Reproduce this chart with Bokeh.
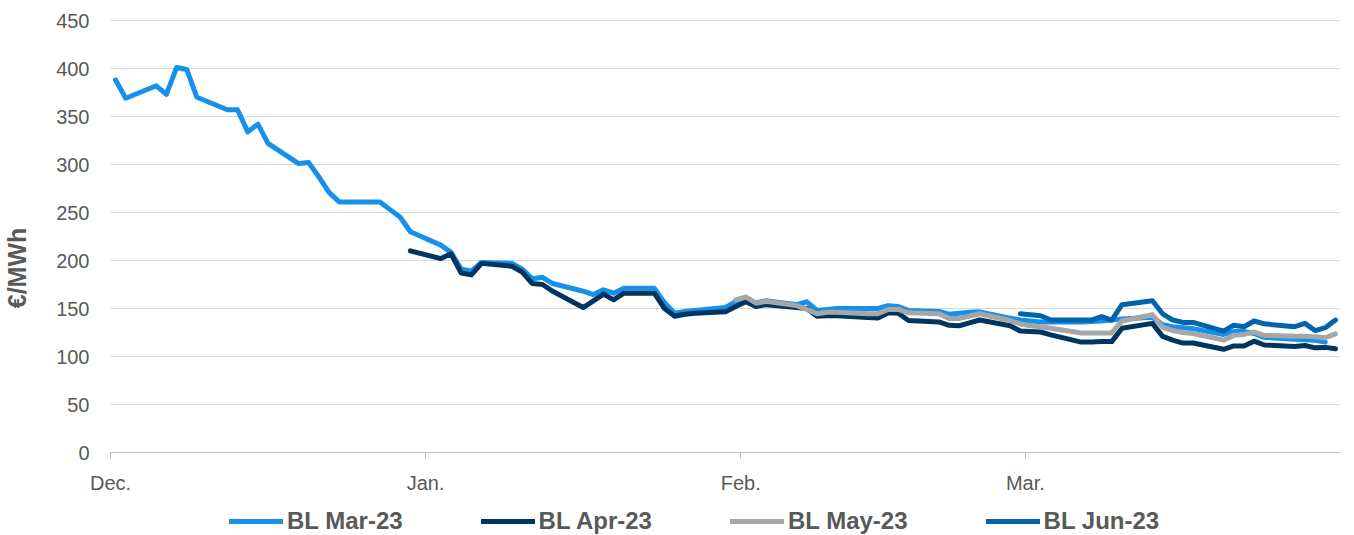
import datetime as dt
from bokeh.plotting import figure
from bokeh.models import Range1d, FixedTicker, Legend, LegendItem, ColumnDataSource, BoxAnnotation
from bokeh.embed import file_html
from bokeh.resources import INLINE

# ---- data -------------------------------------------------------------
DEC_DAYS = [1, 2, 5, 6, 7, 8, 9, 12, 13, 14, 15, 16, 19, 20, 21, 22, 23, 27, 28, 29, 30]
JAN_DAYS = [2, 3, 4, 5, 6, 9, 10, 11, 12, 13, 16, 17, 18, 19, 20, 23, 24, 25, 26, 27, 30, 31]
FEB_DAYS = [1, 2, 3, 6, 7, 8, 9, 10, 13, 14, 15, 16, 17, 20, 21, 22, 23, 24, 27, 28]
MAR_DAYS = [1, 2, 3, 6, 7, 8, 9, 10, 13, 14, 15, 16, 17, 20, 21, 22, 23, 24, 27, 28, 29, 30, 31]

TRADING_DATES = ([dt.datetime(2022, 12, d) for d in DEC_DAYS]
                 + [dt.datetime(2023, 1, d) for d in JAN_DAYS]
                 + [dt.datetime(2023, 2, d) for d in FEB_DAYS]
                 + [dt.datetime(2023, 3, d) for d in MAR_DAYS])

# BL Mar-23, from 2022-12-01
BL_MAR_23 = [388, 369, 382, 373, 401, 399, 370, 357, 357, 334, 342, 322, 301, 302, 287, 271, 261, 261, 253, 245, 230,
             216, 208.5, 191, 189, 198, 197, 191, 181, 182.5, 176, 168, 164.5, 169.5, 166, 171, 171, 156, 145, 147, 148, 151, 157,
             160, 156, 158, 154, 157, 148, 149, 150, 150, 150, 153, 152, 148, 147, 144, 145, 146, 146.5, 140, 138,
             137, 136, 136, 136, 136.5, 137, 138, 139, 141, 133, 131, 130, 129, 123, 126, 126, 124, 120, 118, 117.5, 117, 115]
# BL Apr-23, from 2022-12-30
BL_APR_23 = [210,
             202, 207, 187, 185, 197, 194, 188, 176, 175, 168, 151, 158, 165, 159, 166, 166, 150, 142, 144, 145, 146.5, 152,
             157, 152, 154, 151, 150, 142, 142.5, 142.5, 140.5, 140, 145.5, 145, 137.5, 136, 132.5, 132, 135, 138, 132, 126.5,
             126, 125.5, 122.5, 115, 115, 115.5, 115.5, 129.5, 134.5, 121, 117, 114, 114, 107.5, 111, 111, 116, 112, 110.5, 111.5, 109, 109.5, 108]
# BL May-23, from 2023-01-31
BL_MAY_23 = [159,
             162, 155.5, 157.5, 153, 149, 144.5, 146, 146, 144.5, 144.5, 149, 149, 145.5, 144.5, 139.5, 139.5, 142, 144.5, 137.5, 134,
             132, 131, 129.5, 124.5, 124.5, 124.5, 124.5, 137, 143.5, 130.5, 127, 125, 124, 117, 122, 123, 125.5, 122, 121, 121, 120.5, 119.5, 123.5]
# BL Jun-23, from 2023-02-28
BL_JUN_23 = [144.5,
             143.5, 142.5, 138, 138, 138, 141.5, 138, 154, 158, 144.5, 138, 135.5, 135.5, 126.5, 132.5, 131, 137, 134, 131, 134.5, 127, 130, 138]

SERIES_NAMES = ["BL Mar-23", "BL Apr-23", "BL May-23", "BL Jun-23"]
SERIES_STARTS = [dt.datetime(2022, 12, 1), dt.datetime(2022, 12, 30), dt.datetime(2023, 1, 31), dt.datetime(2023, 2, 28)]
SERIES_VALUES = [BL_MAR_23, BL_APR_23, BL_MAY_23, BL_JUN_23]
SERIES_COLORS = ["#1591EC", "#00355F", "#A6A6A6", "#0063AE"]

MONTH_LABELS = ["Dec.", "Jan.", "Feb.", "Mar."]
MONTH_STARTS = [dt.datetime(2022, 12, 1), dt.datetime(2023, 1, 1), dt.datetime(2023, 2, 1), dt.datetime(2023, 3, 1)]
AXIS_END = dt.datetime(2023, 4, 1)
Y_TICKS = [0, 50, 100, 150, 200, 250, 300, 350, 400, 450]
Y_LABEL = "€/MWh"

# ---- figure -----------------------------------------------------------
EPOCH = dt.datetime(1970, 1, 1)
HALF_DAY = dt.timedelta(hours=12)


def ms(d):
    return (d - EPOCH).total_seconds() * 1000.0


FONT = "Liberation Sans"
TEXT_GREY = "#595959"

# geometry (pixels)
PLOT_W = 1230         # width of the date span
LEFT_PAD = 21         # extra frame room left of the first tick (for the "Dec." label)
PLOT_H = 432          # pixels between value 0 and value 450
TOP_PAD = 20          # frame room above 450
BAND_H = 83           # frame room below value 0 (axis labels + legend)

x_start = ms(MONTH_STARTS[0] - HALF_DAY)
x_end = ms(AXIS_END - HALF_DAY)
ms_per_px = (x_end - x_start) / PLOT_W
Y_MAX = Y_TICKS[-1]
u_per_px = Y_MAX / PLOT_H

p = figure(frame_width=PLOT_W + LEFT_PAD, frame_height=TOP_PAD + PLOT_H + BAND_H,
           output_backend="svg", toolbar_location=None,
           x_axis_type="datetime",
           x_range=Range1d(x_start - LEFT_PAD * ms_per_px, x_end),
           y_range=Range1d(-BAND_H * u_per_px, Y_MAX + TOP_PAD * u_per_px),
           min_border_left=110 - LEFT_PAD, min_border_right=14, min_border_top=0, min_border_bottom=0)
p.outline_line_color = None
p.background_fill_color = "white"
p.border_fill_color = "white"

renderers = []
for name, start, vals, color in zip(SERIES_NAMES, SERIES_STARTS, SERIES_VALUES, SERIES_COLORS):
    i0 = TRADING_DATES.index(start)
    dates = TRADING_DATES[i0:i0 + len(vals)]
    src = ColumnDataSource(dict(x=[ms(d) for d in dates], y=vals))
    r = p.line("x", "y", source=src, line_color=color, line_width=5,
               line_join="round", line_cap="round")
    renderers.append((name, r))

# x axis, drawn at value 0
tick_pos = [ms(d - HALF_DAY) for d in MONTH_STARTS]
p.xaxis.fixed_location = 0
p.xaxis.bounds = (x_start, x_end)
p.xaxis.ticker = FixedTicker(ticks=tick_pos)
p.xaxis.major_label_overrides = {t: lab for t, lab in zip(tick_pos, MONTH_LABELS)}
p.xaxis.axis_line_color = "#BFBFBF"
p.xaxis.major_tick_line_color = "#BFBFBF"
p.xaxis.major_tick_out = 6
p.xaxis.major_tick_in = 0
p.xaxis.minor_tick_line_color = None
p.xaxis.major_label_standoff = 13
p.xaxis.major_label_text_font = FONT
p.xaxis.major_label_text_font_size = "20px"
p.xaxis.major_label_text_color = TEXT_GREY
p.xgrid.grid_line_color = None

# y axis
p.yaxis.ticker = FixedTicker(ticks=Y_TICKS)
p.yaxis.axis_line_color = None
p.yaxis.major_tick_line_color = None
p.yaxis.minor_tick_line_color = None
p.yaxis.major_tick_out = 0
p.yaxis.major_tick_in = 0
p.yaxis.major_label_standoff = 0
p.yaxis.major_label_text_font = FONT
p.yaxis.major_label_text_font_size = "20px"
p.yaxis.major_label_text_color = TEXT_GREY
p.yaxis.axis_label = Y_LABEL
p.yaxis.axis_label_text_font = FONT
p.yaxis.axis_label_text_font_size = "25px"
p.yaxis.axis_label_text_font_style = "bold"
p.yaxis.axis_label_text_color = TEXT_GREY
p.yaxis.axis_label_standoff = 22
p.ygrid.ticker = FixedTicker(ticks=Y_TICKS[1:])
p.ygrid.grid_line_color = "#D9D9D9"
p.ygrid.grid_line_width = 1

# keep the grid lines starting at the first tick, as in the original
p.add_layout(BoxAnnotation(right=x_start, fill_color="white", fill_alpha=1.0,
                           line_alpha=0, level="underlay"))

legend = Legend(items=[LegendItem(label=n, renderers=[r]) for n, r in renderers],
                orientation="horizontal", location=(140, 0),
                label_text_font=FONT, label_text_font_size="24px",
                label_text_font_style="bold", label_text_color=TEXT_GREY,
                glyph_width=54, glyph_height=22, label_standoff=4, spacing=78,
                padding=0, margin=0, border_line_color=None,
                background_fill_alpha=0)
p.add_layout(legend, "center")

open("out.html", "w").write(file_html(p, INLINE))
